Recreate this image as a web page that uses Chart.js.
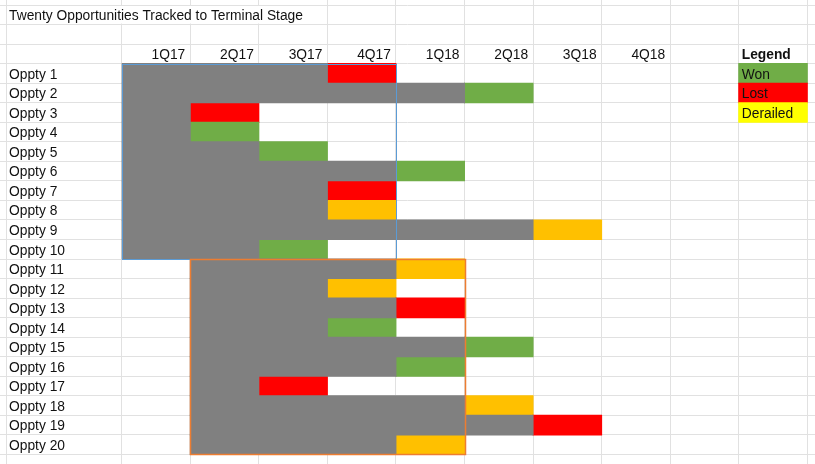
<!DOCTYPE html>
<html>
<head>
<meta charset="utf-8">
<script src="https://cdn.jsdelivr.net/npm/chart.js@4"></script>
<style>
  html, body { margin: 0; padding: 0; background: #fff; }
  #sheet { display: block; }
</style>
</head>
<body>
<canvas id="sheet" width="815" height="464"></canvas>
<script>
const title = "Twenty Opportunities Tracked to Terminal Stage";
const quarters = ["1Q17", "2Q17", "3Q17", "4Q17", "1Q18", "2Q18", "3Q18", "4Q18"];
const opptys = [
  "Oppty 1", "Oppty 2", "Oppty 3", "Oppty 4", "Oppty 5",
  "Oppty 6", "Oppty 7", "Oppty 8", "Oppty 9", "Oppty 10",
  "Oppty 11", "Oppty 12", "Oppty 13", "Oppty 14", "Oppty 15",
  "Oppty 16", "Oppty 17", "Oppty 18", "Oppty 19", "Oppty 20",
];
// quarter index where each oppty opened, and where it reached its terminal stage
const startQuarter = [0, 0, 0, 0, 0, 0, 0, 0, 0, 0, 1, 1, 1, 1, 1, 1, 1, 1, 1, 1];
const terminalQuarter = [3, 5, 1, 1, 2, 4, 3, 3, 6, 2, 4, 3, 4, 3, 5, 4, 2, 5, 6, 4];
const outcome = [
  "Lost", "Won", "Lost", "Won", "Won", "Won", "Lost", "Derailed", "Derailed", "Won",
  "Derailed", "Derailed", "Lost", "Won", "Won", "Won", "Lost", "Derailed", "Lost", "Derailed",
];
const outcomeColors = { Won: "#70AD47", Lost: "#FF0000", Derailed: "#FFC000" };
const activeColor = "#808080";

const legendTitle = "Legend";
const legendLabels = ["Won", "Lost", "Derailed"];
const legendColors = ["#70AD47", "#FF0000", "#FFFF00"];

// two cohorts outlined on the sheet
const cohortFirstRow = [0, 10];
const cohortLastRow = [9, 19];
const cohortFromQ = [0, 1];
const cohortToQ = [3, 4];
const cohortColors = ["#5B9BD5", "#ED7D31"];

// sheet geometry
const W = 815, H = 464;
const COL_X0 = 121.7, COL_W = 68.56;
const ROW_Y0 = 5.0, ROW_H = 19.54;
const NARROW_COL_X = 6.3;
const HEADER_ROW = 2, FIRST_OPPTY_ROW = 3, LEGEND_COL = 9;
const FONT = "'Liberation Sans', Arial, sans-serif";
const FONT_SIZE = 13.8;
const TEXT = "#111111";
const GRID = "#E1E1E1";

const rowOf = (i) => FIRST_OPPTY_ROW + i;

const activeData = opptys.map((_, i) => ({ y: rowOf(i), x: [startQuarter[i], terminalQuarter[i]] }));
const terminalData = opptys.map((_, i) => ({ y: rowOf(i), x: [terminalQuarter[i], terminalQuarter[i] + 1] }));
const legendData = legendLabels.map((_, i) => ({ y: rowOf(i), x: [LEGEND_COL, LEGEND_COL + 1] }));

const xGridTicks = [(NARROW_COL_X - COL_X0) / COL_W];
for (let c = 0; c <= 10; c++) xGridTicks.push(c);
const yGridTicks = [];
for (let r = -1; r <= 23; r++) yGridTicks.push(r + 0.5);

// let every axis take no room so the plot area is the whole sheet
const noRoom = (s) => {
  if (s.isHorizontal()) s.height = 0; else s.width = 0;
  s.paddingTop = s.paddingBottom = s.paddingLeft = s.paddingRight = 0;
};

const sheetText = {
  id: "sheetText",
  beforeDatasetsDraw(chart) {
    // title text spills over the neighbouring cells, hiding their gridlines
    const { ctx, scales: { x, y } } = chart;
    ctx.save();
    ctx.font = FONT_SIZE + "px " + FONT;
    const left = x.getPixelForValue(xGridTicks[0]) + 1;
    const textEnd = 9 + ctx.measureText(title).width;
    let c = 0;
    while (x.getPixelForValue(c) < textEnd) c++;
    const right = x.getPixelForValue(c) - 1;
    const top = y.getPixelForValue(-0.5) + 1;
    const bottom = y.getPixelForValue(0.5) - 1;
    ctx.fillStyle = "#fff";
    ctx.fillRect(left, top, right - left, bottom - top);
    ctx.restore();
  },
  afterDatasetsDraw(chart) {
    const { ctx, scales: { x, y } } = chart;
    ctx.save();
    // cohort outlines
    cohortColors.forEach((col, k) => {
      const x0 = Math.round(x.getPixelForValue(cohortFromQ[k])) + 0.5;
      const x1 = Math.round(x.getPixelForValue(cohortToQ[k] + 1)) + 0.5;
      const y0 = Math.round(y.getPixelForValue(rowOf(cohortFirstRow[k]) - 0.5)) + 0.5;
      const y1 = Math.round(y.getPixelForValue(rowOf(cohortLastRow[k]) + 0.5)) + 0.5;
      ctx.strokeStyle = col;
      ctx.lineWidth = k === 0 ? 1 : 1.5;
      ctx.strokeRect(x0, y0, x1 - x0, y1 - y0);
    });

    ctx.fillStyle = TEXT;
    ctx.textBaseline = "middle";
    ctx.font = FONT_SIZE + "px " + FONT;
    ctx.textAlign = "left";
    ctx.fillText(title, 9, y.getPixelForValue(0) + 1.5);

    ctx.textAlign = "right";
    quarters.forEach((q, i) => {
      ctx.fillText(q, x.getPixelForValue(i + 1) - 5, y.getPixelForValue(HEADER_ROW) + 1.5);
    });

    ctx.textAlign = "left";
    const lx = x.getPixelForValue(LEGEND_COL) + 3;
    ctx.font = "bold " + FONT_SIZE + "px " + FONT;
    ctx.fillText(legendTitle, lx, y.getPixelForValue(HEADER_ROW) + 1.5);
    ctx.font = FONT_SIZE + "px " + FONT;
    legendLabels.forEach((l, i) => {
      ctx.fillText(l, lx, y.getPixelForValue(rowOf(i)) + 1.5);
    });
    ctx.restore();
  },
};

new Chart(document.getElementById("sheet"), {
  type: "bar",
  data: {
    datasets: [
      { label: "Active", data: activeData, backgroundColor: activeColor },
      { label: "Terminal", data: terminalData, backgroundColor: outcome.map((o) => outcomeColors[o]) },
      { label: "Legend", data: legendData, backgroundColor: legendColors },
    ],
  },
  options: {
    indexAxis: "y",
    responsive: false,
    animation: false,
    layout: { padding: 0 },
    datasets: {
      bar: {
        grouped: false, barPercentage: 1, categoryPercentage: 1,
        borderWidth: 0, borderSkipped: false, inflateAmount: 0.5,
      },
    },
    plugins: { legend: { display: false }, tooltip: { enabled: false } },
    scales: {
      x: {
        type: "linear",
        position: "bottom",
        offset: false,
        min: -COL_X0 / COL_W,
        max: (W - COL_X0) / COL_W,
        afterBuildTicks: (s) => { s.ticks = xGridTicks.map((v) => ({ value: v })); },
        afterFit: noRoom,
        grid: { color: GRID, drawTicks: false, offset: false },
        border: { display: false },
        ticks: { display: false },
      },
      y: {
        type: "linear",
        position: "left",
        reverse: true,
        offset: false,
        min: -ROW_Y0 / ROW_H - 0.5,
        max: (H - ROW_Y0) / ROW_H - 0.5,
        afterBuildTicks: (s) => { s.ticks = yGridTicks.map((v) => ({ value: v })); },
        afterFit: noRoom,
        grid: { color: GRID, drawTicks: false, offset: false },
        border: { display: false },
        ticks: { display: false },
      },
      yl: {
        type: "linear",
        position: "left",
        reverse: true,
        offset: false,
        min: -ROW_Y0 / ROW_H - 0.5,
        max: (H - ROW_Y0) / ROW_H - 0.5,
        afterBuildTicks: (s) => { s.ticks = opptys.map((_, i) => ({ value: rowOf(i) })); },
        afterFit: noRoom,
        grid: { display: false, drawTicks: false },
        border: { display: false },
        ticks: {
          mirror: true,
          padding: 9,
          autoSkip: false,
          labelOffset: 1.5,
          color: TEXT,
          font: { family: FONT, size: FONT_SIZE },
          callback: (v) => opptys[v - FIRST_OPPTY_ROW],
        },
      },
    },
  },
  plugins: [sheetText],
});
</script>
</body>
</html>
